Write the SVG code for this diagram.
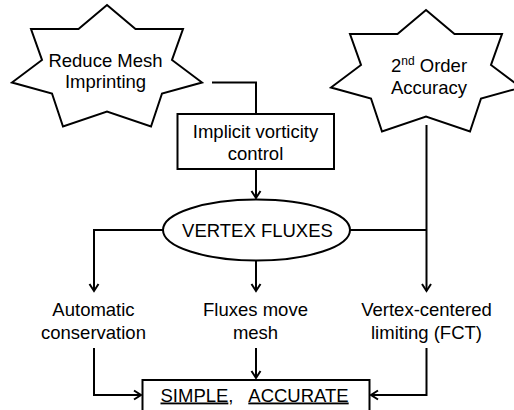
<svg xmlns="http://www.w3.org/2000/svg" width="514" height="410" viewBox="0 0 514 410">
  <style>
    .shape { fill: #ffffff; stroke: #000000; stroke-width: 2; stroke-linejoin: miter; }
    .wire { fill: none; stroke: #000000; stroke-width: 2; }
    .label { font-family: "Liberation Sans", Arial, sans-serif; font-size: 18.5px; fill: #000000; text-anchor: middle; }
  </style>
  <defs>
    <marker id="arrow" viewBox="0 0 12 12" refX="10" refY="6" markerWidth="12" markerHeight="12" markerUnits="userSpaceOnUse" orient="auto">
      <path d="M3,1.5 L10,6 L3,10.5" fill="none" stroke="#000000" stroke-width="2"/>
    </marker>
  </defs>
  <rect width="514" height="410" fill="#ffffff"/>

  <g id="connectors">
    <!-- star to vorticity box -->
    <path class="wire" d="M212,82.5 H256 V114"/>
    <!-- box to ellipse -->
    <path class="wire" d="M256,169 V198" marker-end="url(#arrow)"/>
    <!-- ellipse branches -->
    <path class="wire" d="M163,230 H94 V291" marker-end="url(#arrow)"/>
    <path class="wire" d="M256,261 V291" marker-end="url(#arrow)"/>
    <path class="wire" d="M350,230 H426.5"/>
    <!-- accuracy star down to limiting -->
    <path class="wire" d="M426.5,125 V291" marker-end="url(#arrow)"/>
    <!-- results into final box -->
    <path class="wire" d="M94,348 V395 H141" marker-end="url(#arrow)"/>
    <path class="wire" d="M256,348 V378" marker-end="url(#arrow)"/>
    <path class="wire" d="M426.5,348 V395 H371" marker-end="url(#arrow)"/>
  </g>

  <g id="reduce-mesh">
    <polygon class="shape" points="107,5 135.5,29 183,29 172,60 202,82.5 162,93.5 151,126.5 107,111.5 63,126.5 52,93.5 12,82.5 42,60 31,29 78.5,29"/>
    <text class="label" x="105.5" y="66.5">Reduce Mesh</text>
    <text class="label" x="105.5" y="88">Imprinting</text>
  </g>

  <g id="second-order">
    <polygon class="shape" points="426,10 454.5,34 502,34 491,65 521,87.5 481,98.5 470,131.5 426,116.5 382,131.5 371,98.5 331,87.5 361,65 350,34 397.5,34"/>
    <text class="label" x="429" y="71.5">2<tspan font-size="12" dy="-7">nd</tspan><tspan dy="7"> Order</tspan></text>
    <text class="label" x="429" y="93.5">Accuracy</text>
  </g>

  <g id="vorticity">
    <rect class="shape" x="177.5" y="114" width="156.5" height="55"/>
    <text class="label" x="255.5" y="137.5">Implicit vorticity</text>
    <text class="label" x="255.5" y="159.5">control</text>
  </g>

  <g id="vertex-fluxes">
    <ellipse class="shape" cx="256.5" cy="230" rx="93.5" ry="30.5"/>
    <text class="label" x="257.5" y="236.5">VERTEX FLUXES</text>
  </g>

  <g id="conservation">
    <text class="label" x="93.5" y="316">Automatic</text>
    <text class="label" x="93.5" y="339">conservation</text>
  </g>

  <g id="move-mesh">
    <text class="label" x="255.5" y="316">Fluxes move</text>
    <text class="label" x="255.5" y="339">mesh</text>
  </g>

  <g id="limiting">
    <text class="label" x="426.5" y="316">Vertex-centered</text>
    <text class="label" x="426.5" y="339">limiting (FCT)</text>
  </g>

  <g id="simple-accurate">
    <rect class="shape" x="142.5" y="380" width="227" height="40"/>
    <text class="label" x="197" y="401.5"><tspan text-decoration="underline">SIMPLE</tspan>,</text>
    <text class="label" x="298.5" y="401.5" text-decoration="underline">ACCURATE</text>
  </g>
</svg>
